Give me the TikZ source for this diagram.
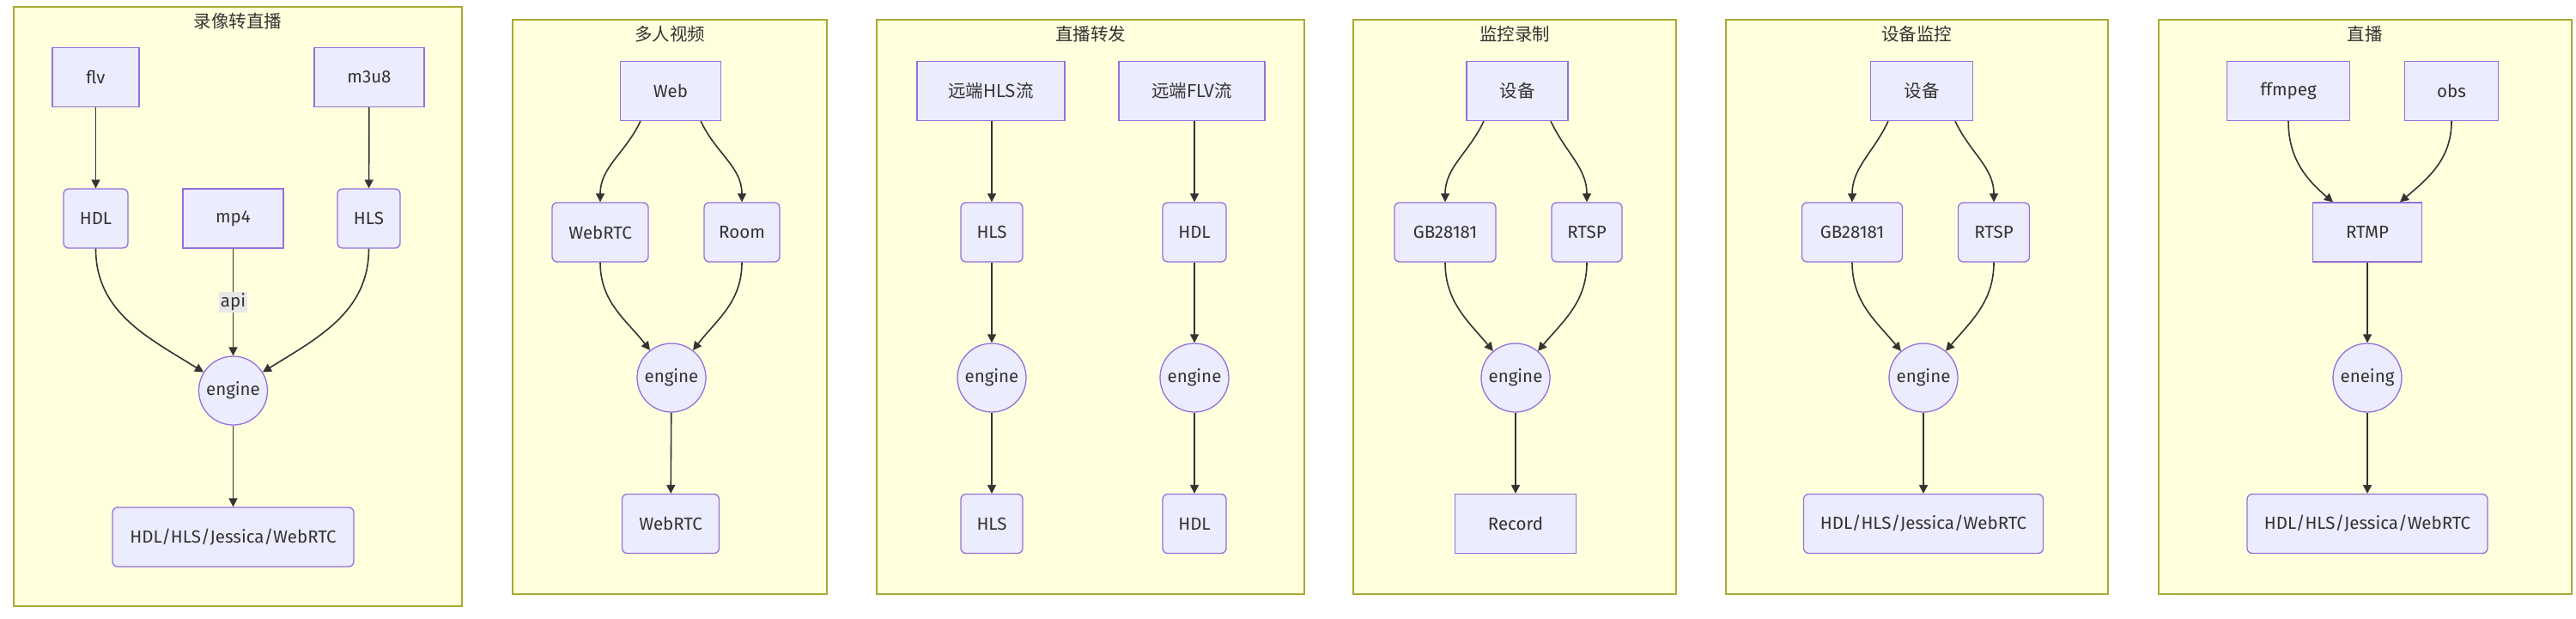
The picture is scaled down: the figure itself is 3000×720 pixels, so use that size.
\documentclass[tikz,border=0pt]{standalone}
\usepackage{fontspec}
\setmainfont{Fira Sans}
\newfontfamily\cjk{Noto Sans CJK SC}
\usetikzlibrary{arrows.meta}
\definecolor{nodefill}{HTML}{ECECFF}
\definecolor{nodestroke}{HTML}{9370DB}
\definecolor{clusterfill}{HTML}{FFFFDE}
\definecolor{clusterstroke}{HTML}{AAAA33}
\definecolor{edgecol}{HTML}{333333}
\definecolor{txt}{HTML}{333333}
\definecolor{labelbg}{HTML}{E8E8E8}
\begin{document}
\begin{tikzpicture}[x=1pt,y=1pt,
  every node/.style={font=\fontsize{20.5}{24}\selectfont, text=txt},
  sq/.style={draw=nodestroke, fill=nodefill, line width=1.3pt, minimum height=69pt, inner sep=0pt},
  rd/.style={sq, rounded corners=6pt},
  circ/.style={circle, draw=nodestroke, fill=nodefill, line width=1.3pt, minimum size=80pt, inner sep=0pt},
  clus/.style={draw=clusterstroke, fill=clusterfill, line width=1.3pt, inner sep=0pt},
  ctitle/.style={inner sep=0pt},
  conn/.style={draw=edgecol, line width=1.6pt, -{Triangle[length=10pt,width=10pt]}},
  lbl/.style={fill=labelbg, inner sep=2pt},
]
\useasboundingbox (0,0) rectangle (3000,-720);
% clusters
\node[clus, minimum width=522pt, minimum height=698pt] (c1) at (277,-357) {};
\node[clus, minimum width=366pt, minimum height=669pt] (c2) at (780,-357.5) {};
\node[clus, minimum width=498pt, minimum height=669pt] (c3) at (1270,-357.5) {};
\node[clus, minimum width=376pt, minimum height=669pt] (c4) at (1764,-357.5) {};
\node[clus, minimum width=445pt, minimum height=669pt] (c5) at (2232.5,-357.5) {};
\node[clus, minimum width=481pt, minimum height=669pt] (c6) at (2754.5,-357.5) {};
\node[ctitle] (t1) at (277,-25) {\cjk 录像转直播};
\node[ctitle] (t2) at (780,-40) {\cjk 多人视频};
\node[ctitle] (t3) at (1270,-40) {\cjk 直播转发};
\node[ctitle] (t4) at (1764,-40) {\cjk 监控录制};
\node[ctitle] (t5) at (2232,-40) {\cjk 设备监控};
\node[ctitle] (t6) at (2754,-40) {\cjk 直播};
% sub1
\node[sq, minimum width=101pt] (flv) at (111.5,-90) {flv};
\node[sq, minimum width=128pt] (m3u8) at (430,-90) {m3u8};
\node[rd, minimum width=75pt] (hdl1) at (111.5,-254.5) {HDL};
\node[sq, minimum width=117pt] (mp4) at (271.5,-254.5) {mp4};
\node[rd, minimum width=73pt] (hls1) at (429.5,-254.5) {HLS};
\node[circ] (eng1) at (271.5,-455) {engine};
\node[rd, minimum width=281pt] (out1) at (271.5,-625.5) {HDL/HLS/Jessica/WebRTC};
\draw[conn] (flv) -- (hdl1);
\draw[conn] (m3u8) -- (hls1);
\draw[conn] (hdl1.south) to[out=-90,in=148] (eng1);
\draw[conn] (hls1.south) to[out=-90,in=32] (eng1);
\draw[conn] (mp4) -- node[lbl] (api) {api} (eng1);
\draw[conn] (eng1) -- (out1);
% sub2
\node[sq, minimum width=117pt] (web) at (781,-106) {Web};
\node[rd, minimum width=112pt] (webrtc2) at (699,-270.5) {WebRTC};
\node[rd, minimum width=88pt] (room) at (864,-270.5) {Room};
\node[circ] (eng2) at (782,-440) {engine};
\node[rd, minimum width=113pt] (out2) at (781,-610) {WebRTC};
\draw[conn] (web.225) to[out=-115,in=90] (webrtc2.north);
\draw[conn] (web.-45) to[out=-65,in=90] (room.north);
\draw[conn] (webrtc2.south) to[out=-90,in=128] (eng2);
\draw[conn] (room.south) to[out=-90,in=52] (eng2);
\draw[conn] (eng2) -- (out2);
% sub3
\node[sq, minimum width=172pt] (rhls) at (1154,-106) {\cjk 远端HLS流};
\node[sq, minimum width=170pt] (rflv) at (1388,-106) {\cjk 远端FLV流};
\node[rd, minimum width=72pt] (hls3) at (1155,-270.5) {HLS};
\node[rd, minimum width=74pt] (hdl3) at (1391,-270.5) {HDL};
\node[circ] (eng3a) at (1155,-440) {engine};
\node[circ] (eng3b) at (1391,-440) {engine};
\node[rd, minimum width=72pt] (hls3o) at (1155,-610) {HLS};
\node[rd, minimum width=74pt] (hdl3o) at (1391,-610) {HDL};
\draw[conn] (rhls.south -| hls3) -- (hls3);
\draw[conn] (rflv.south -| hdl3) -- (hdl3);
\draw[conn] (hls3) -- (eng3a);
\draw[conn] (hdl3) -- (eng3b);
\draw[conn] (eng3a) -- (hls3o);
\draw[conn] (eng3b) -- (hdl3o);
% sub4
\node[sq, minimum width=118pt] (dev4) at (1767,-106) {\cjk 设备};
\node[rd, minimum width=118pt] (gb4) at (1683,-270.5) {GB28181};
\node[rd, minimum width=82pt] (rtsp4) at (1848,-270.5) {RTSP};
\node[circ] (eng4) at (1765,-440) {engine};
\node[sq, minimum width=141pt] (rec) at (1765,-610) {Record};
\draw[conn] (dev4.222) to[out=-115,in=90] (gb4.north);
\draw[conn] (dev4.-42) to[out=-65,in=90] (rtsp4.north);
\draw[conn] (gb4.south) to[out=-90,in=130] (eng4);
\draw[conn] (rtsp4.south) to[out=-90,in=50] (eng4);
\draw[conn] (eng4) -- (rec);
% sub5
\node[sq, minimum width=119pt] (dev5) at (2238,-106) {\cjk 设备};
\node[rd, minimum width=117pt] (gb5) at (2157,-270.5) {GB28181};
\node[rd, minimum width=83pt] (rtsp5) at (2322,-270.5) {RTSP};
\node[circ] (eng5) at (2240,-440) {engine};
\node[rd, minimum width=279pt] (out5) at (2240,-610) {HDL/HLS/Jessica/WebRTC};
\draw[conn] (dev5.222) to[out=-115,in=90] (gb5.north);
\draw[conn] (dev5.-42) to[out=-65,in=90] (rtsp5.north);
\draw[conn] (gb5.south) to[out=-90,in=130] (eng5);
\draw[conn] (rtsp5.south) to[out=-90,in=50] (eng5);
\draw[conn] (eng5) -- (out5);
% sub6
\node[sq, minimum width=143pt] (ffmpeg) at (2665,-106) {ffmpeg};
\node[sq, minimum width=109pt] (obs) at (2855,-106) {obs};
\node[sq, minimum width=127pt] (rtmp) at (2757,-270.5) {RTMP};
\node[circ] (eneing) at (2757,-440) {eneing};
\node[rd, minimum width=280pt] (out6) at (2757,-610) {HDL/HLS/Jessica/WebRTC};
\draw[conn] (ffmpeg.south) to[out=-90,in=140] ([xshift=-40pt]rtmp.north);
\draw[conn] (obs.south) to[out=-90,in=40] ([xshift=38pt]rtmp.north);
\draw[conn] (rtmp) -- (eneing);
\draw[conn] (eneing) -- (out6);
\end{tikzpicture}
\end{document}
